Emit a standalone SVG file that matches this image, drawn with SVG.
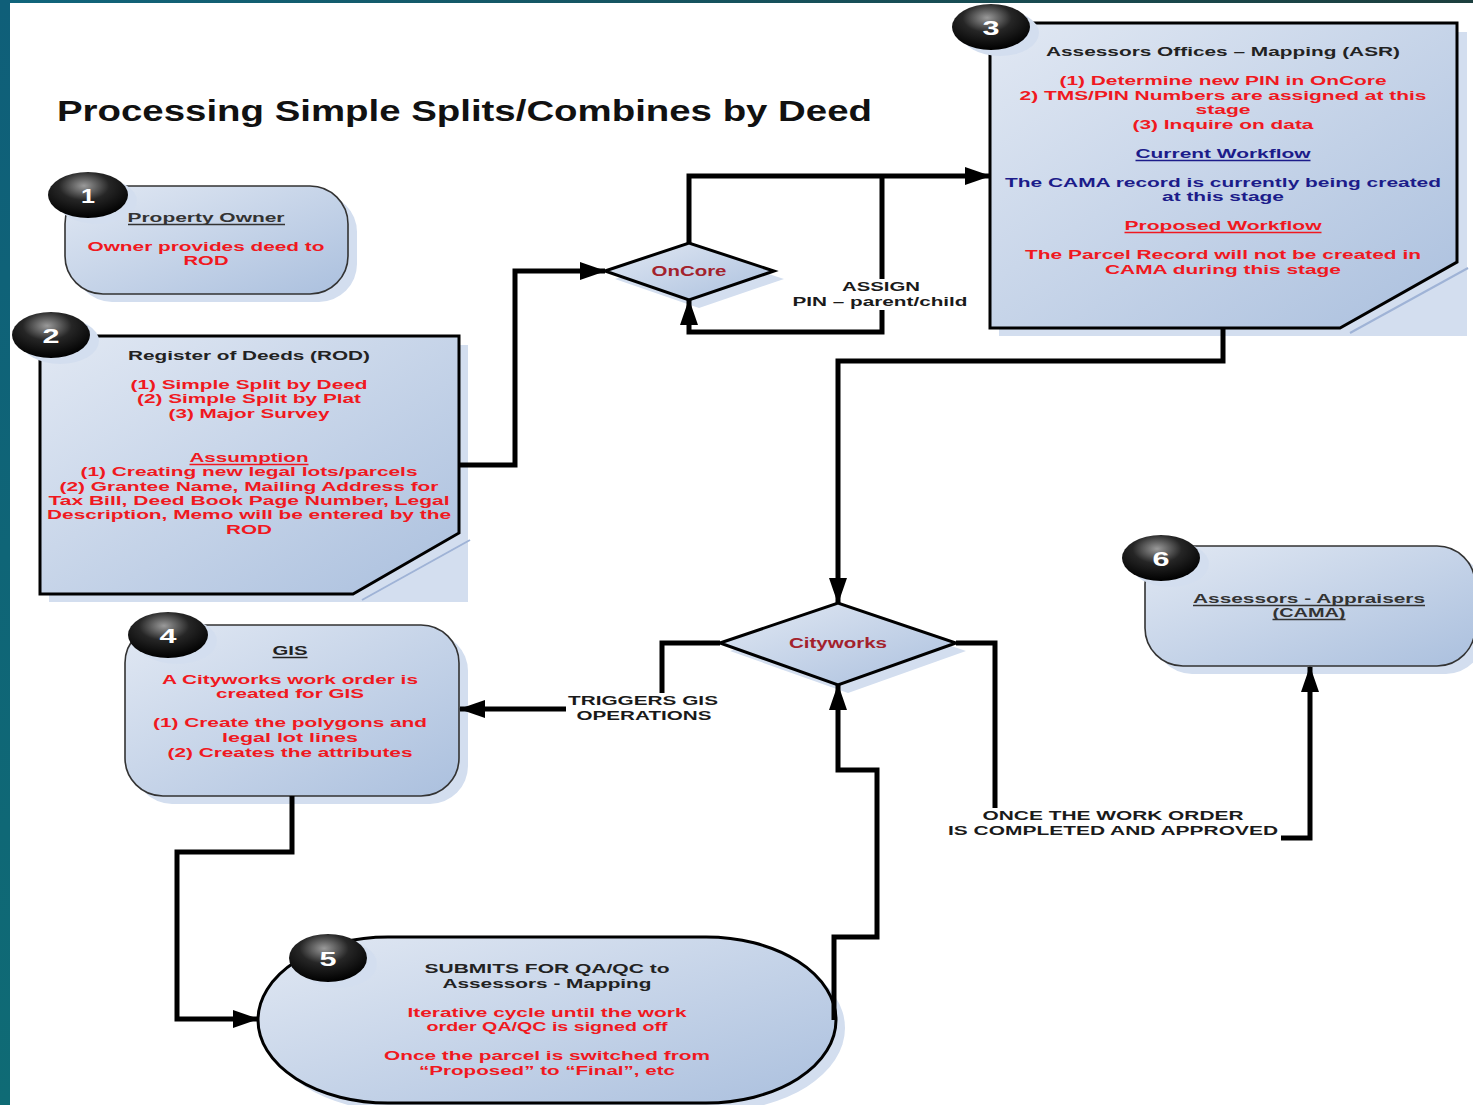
<svg xmlns="http://www.w3.org/2000/svg" width="1473" height="1105" viewBox="0 0 1473 1105">
<defs>
<linearGradient id="fill" x1="0" y1="0" x2="1" y2="1">
<stop offset="0" stop-color="#e1e8f3"/>
<stop offset="1" stop-color="#abc0de"/>
</linearGradient>
<radialGradient id="badge" cx="0.45" cy="0.3" r="0.7">
<stop offset="0" stop-color="#9a9a9a"/>
<stop offset="0.45" stop-color="#262626"/>
<stop offset="1" stop-color="#000"/>
</radialGradient>
<linearGradient id="topbar" x1="0" y1="0" x2="1" y2="0">
<stop offset="0" stop-color="#10657c"/>
<stop offset="1" stop-color="#1c3f3e"/>
</linearGradient>
<linearGradient id="leftbar" x1="0" y1="0" x2="0" y2="1">
<stop offset="0" stop-color="#0f5f79"/>
<stop offset="1" stop-color="#0f6b75"/>
</linearGradient>
<marker id="arr" markerUnits="userSpaceOnUse" markerWidth="26" markerHeight="18" refX="25" refY="9" orient="auto">
<path d="M0,0 L26,9 L0,18 z" fill="#000"/>
</marker>
<style>
text{font-family:"Liberation Sans",Arial,sans-serif;font-weight:bold;text-anchor:middle;}
.t{font-size:13.5px;}
.dk{fill:#222;}
.rd{fill:#f01820;}
.bl{fill:#1c1c8a;}
.dm{fill:#a3222c;font-size:14px;}
.lb{font-size:13px;fill:#1a1a1a;}
.num{font-size:21px;fill:#fff;}
.ttl{font-size:29px;fill:#111;text-anchor:start;}
.shadow{fill:#d3deef;}
.nb{fill:url(#fill);stroke:#000;stroke-width:3;}
.nr{fill:url(#fill);stroke:#333;stroke-width:1.6;}
.con{fill:none;stroke:#000;stroke-width:5;stroke-linejoin:miter;}
.ul{stroke-width:1.4;}
</style>
</defs>
<rect x="0" y="0" width="1473" height="1105" fill="#fff"/>
<rect x="0" y="0" width="1473" height="3" fill="url(#topbar)"/>
<rect x="0" y="0" width="10" height="1105" fill="url(#leftbar)"/>

<text class="ttl" x="57" y="121" textLength="815" lengthAdjust="spacingAndGlyphs">Processing Simple Splits/Combines by Deed</text>

<!-- Node 1 -->
<g id="node1">
<rect class="shadow" x="74" y="194" width="283" height="108" rx="38"/>
<rect class="nr" x="65" y="186" width="283" height="108" rx="38"/>
<ellipse class="shadow" cx="97" cy="201" rx="40" ry="23"/>
<ellipse cx="88" cy="195" rx="40" ry="23" fill="url(#badge)"/>
<text class="num" x="88" y="203" textLength="14" lengthAdjust="spacingAndGlyphs">1</text>
<text class="t" x="206" y="222" textLength="157" lengthAdjust="spacingAndGlyphs" fill="#333">Property Owner</text>
<line class="ul" x1="128" y1="224.5" x2="285" y2="224.5" stroke="#333"/>
<text class="t rd" x="206" y="251" textLength="237" lengthAdjust="spacingAndGlyphs">Owner provides deed to</text>
<text class="t rd" x="206" y="265" textLength="45" lengthAdjust="spacingAndGlyphs">ROD</text>
</g>

<!-- Node 2 -->
<g id="node2">
<polygon class="shadow" points="49,345 468,345 468,602 49,602"/>
<polygon class="nb" points="40,336 459,336 459,533 353,594 40,594"/>
<line x1="362" y1="600" x2="470" y2="540" stroke="#9fb3d6" stroke-width="2"/>
<ellipse class="shadow" cx="60" cy="341" rx="39" ry="23"/>
<ellipse cx="51" cy="335" rx="39" ry="23" fill="url(#badge)"/>
<text class="num" x="51" y="343" textLength="17" lengthAdjust="spacingAndGlyphs">2</text>
<text class="t dk" x="249" y="360" textLength="242" lengthAdjust="spacingAndGlyphs">Register of Deeds (ROD)</text>
<text class="t rd" x="249" y="389" textLength="237" lengthAdjust="spacingAndGlyphs">(1) Simple Split by Deed</text>
<text class="t rd" x="249" y="403" textLength="224" lengthAdjust="spacingAndGlyphs">(2) Simple Split by Plat</text>
<text class="t rd" x="249" y="418" textLength="161" lengthAdjust="spacingAndGlyphs">(3) Major Survey</text>
<text class="t rd" x="249" y="462" textLength="119" lengthAdjust="spacingAndGlyphs">Assumption</text>
<line class="ul" x1="189.5" y1="464.5" x2="308.5" y2="464.5" stroke="#f01820"/>
<text class="t rd" x="249" y="476" textLength="337" lengthAdjust="spacingAndGlyphs">(1) Creating new legal lots/parcels</text>
<text class="t rd" x="249" y="491" textLength="379" lengthAdjust="spacingAndGlyphs">(2) Grantee Name, Mailing Address for</text>
<text class="t rd" x="249" y="505" textLength="401" lengthAdjust="spacingAndGlyphs">Tax Bill, Deed Book Page Number, Legal</text>
<text class="t rd" x="249" y="519" textLength="404" lengthAdjust="spacingAndGlyphs">Description, Memo will be entered by the</text>
<text class="t rd" x="249" y="534" textLength="46" lengthAdjust="spacingAndGlyphs">ROD</text>
</g>

<!-- Node 3 -->
<g id="node3">
<polygon class="shadow" points="999,32 1467,32 1467,336 999,336"/>
<polygon class="nb" points="990,23 1457,23 1457,262 1340,328 990,328"/>
<line x1="1350" y1="333" x2="1468" y2="268" stroke="#9fb3d6" stroke-width="2"/>
<ellipse class="shadow" cx="1000" cy="33" rx="39" ry="23"/>
<ellipse cx="991" cy="27" rx="39" ry="23" fill="url(#badge)"/>
<text class="num" x="991" y="35" textLength="17" lengthAdjust="spacingAndGlyphs">3</text>
<text class="t dk" x="1223" y="56" textLength="354" lengthAdjust="spacingAndGlyphs">Assessors Offices – Mapping (ASR)</text>
<text class="t rd" x="1223" y="85" textLength="327" lengthAdjust="spacingAndGlyphs">(1) Determine new PIN in OnCore</text>
<text class="t rd" x="1223" y="100" textLength="407" lengthAdjust="spacingAndGlyphs">2) TMS/PIN Numbers are assigned at this</text>
<text class="t rd" x="1223" y="114" textLength="55" lengthAdjust="spacingAndGlyphs">stage</text>
<text class="t rd" x="1223" y="129" textLength="181" lengthAdjust="spacingAndGlyphs">(3) Inquire on data</text>
<text class="t bl" x="1223" y="158" textLength="175" lengthAdjust="spacingAndGlyphs">Current Workflow</text>
<line class="ul" x1="1135.5" y1="160.5" x2="1310.5" y2="160.5" stroke="#1c1c8a"/>
<text class="t bl" x="1223" y="187" textLength="436" lengthAdjust="spacingAndGlyphs">The CAMA record is currently being created</text>
<text class="t bl" x="1223" y="201" textLength="122" lengthAdjust="spacingAndGlyphs">at this stage</text>
<text class="t rd" x="1223" y="230" textLength="197" lengthAdjust="spacingAndGlyphs">Proposed Workflow</text>
<line class="ul" x1="1124.5" y1="232.5" x2="1321.5" y2="232.5" stroke="#f01820"/>
<text class="t rd" x="1223" y="259" textLength="396" lengthAdjust="spacingAndGlyphs">The Parcel Record will not be created in</text>
<text class="t rd" x="1223" y="274" textLength="236" lengthAdjust="spacingAndGlyphs">CAMA during this stage</text>
</g>

<!-- OnCore -->
<g id="oncore">
<polygon class="shadow" points="615,279 699,251 784,279 699,308"/>
<polygon class="nb" points="605,271 689,243 774,271 689,300"/>
<text class="dm" x="689" y="276" textLength="75" lengthAdjust="spacingAndGlyphs">OnCore</text>
</g>

<!-- Cityworks -->
<g id="cityworks">
<polygon class="shadow" points="730,651 848,611 966,651 848,693"/>
<polygon class="nb" points="720,643 838,603 956,643 838,685"/>
<text class="dm" x="838" y="648" textLength="98" lengthAdjust="spacingAndGlyphs">Cityworks</text>
</g>

<!-- Node 4 -->
<g id="node4">
<rect class="shadow" x="134" y="633" width="334" height="171" rx="38"/>
<rect class="nr" x="125" y="625" width="334" height="171" rx="38"/>
<ellipse class="shadow" cx="177" cy="641" rx="40" ry="23"/>
<ellipse cx="168" cy="635" rx="40" ry="23" fill="url(#badge)"/>
<text class="num" x="168" y="643" textLength="17" lengthAdjust="spacingAndGlyphs">4</text>
<text class="t dk" x="290" y="655" textLength="35" lengthAdjust="spacingAndGlyphs">GIS</text>
<line class="ul" x1="272.5" y1="657.5" x2="307.5" y2="657.5" stroke="#222"/>
<text class="t rd" x="290" y="684" textLength="256" lengthAdjust="spacingAndGlyphs">A Cityworks work order is</text>
<text class="t rd" x="290" y="698" textLength="148" lengthAdjust="spacingAndGlyphs">created for GIS</text>
<text class="t rd" x="290" y="727" textLength="274" lengthAdjust="spacingAndGlyphs">(1) Create the polygons and</text>
<text class="t rd" x="290" y="742" textLength="136" lengthAdjust="spacingAndGlyphs">legal lot lines</text>
<text class="t rd" x="290" y="757" textLength="245" lengthAdjust="spacingAndGlyphs">(2) Creates the attributes</text>
</g>

<!-- Node 5 -->
<g id="node5">
<rect class="shadow" x="267" y="945" width="578" height="166" rx="130" ry="83"/>
<rect class="nb" x="258" y="937" width="578" height="166" rx="130" ry="83"/>
<ellipse class="shadow" cx="338" cy="964" rx="39" ry="24"/>
<ellipse cx="328" cy="958" rx="39" ry="24" fill="url(#badge)"/>
<text class="num" x="328" y="966" textLength="17" lengthAdjust="spacingAndGlyphs">5</text>
<text class="t dk" x="547" y="973" textLength="245" lengthAdjust="spacingAndGlyphs">SUBMITS FOR QA/QC to</text>
<text class="t dk" x="547" y="988" textLength="209" lengthAdjust="spacingAndGlyphs">Assessors - Mapping</text>
<text class="t rd" x="547" y="1017" textLength="279" lengthAdjust="spacingAndGlyphs">Iterative cycle until the work</text>
<text class="t rd" x="547" y="1031" textLength="241" lengthAdjust="spacingAndGlyphs">order QA/QC is signed off</text>
<text class="t rd" x="547" y="1060" textLength="326" lengthAdjust="spacingAndGlyphs">Once the parcel is switched from</text>
<text class="t rd" x="547" y="1075" textLength="256" lengthAdjust="spacingAndGlyphs">“Proposed” to “Final”, etc</text>
</g>

<!-- Node 6 -->
<g id="node6">
<rect class="shadow" x="1154" y="554" width="330" height="120" rx="38"/>
<rect class="nr" x="1145" y="546" width="330" height="120" rx="38"/>
<ellipse class="shadow" cx="1170" cy="564" rx="39" ry="23"/>
<ellipse cx="1161" cy="558" rx="39" ry="23" fill="url(#badge)"/>
<text class="num" x="1161" y="566" textLength="17" lengthAdjust="spacingAndGlyphs">6</text>
<text class="t" x="1309" y="603" textLength="232" lengthAdjust="spacingAndGlyphs" fill="#333">Assessors - Appraisers</text>
<line class="ul" x1="1193" y1="605.5" x2="1425" y2="605.5" stroke="#333"/>
<text class="t" x="1309" y="617" textLength="73" lengthAdjust="spacingAndGlyphs" fill="#333">(CAMA)</text>
<line class="ul" x1="1272.5" y1="619.5" x2="1345.5" y2="619.5" stroke="#333"/>
</g>

<!-- Connectors -->
<g id="connectors">
<path class="con" d="M459,465 H515 V271 H605" marker-end="url(#arr)"/>
<path class="con" d="M689,243 V176 H990" marker-end="url(#arr)"/>
<path class="con" d="M882,176 V332 H689 V300" marker-end="url(#arr)"/>
<path class="con" d="M1223,328 V361 H838 V603" marker-end="url(#arr)"/>
<path class="con" d="M720,643 H662 V709 H460" marker-end="url(#arr)"/>
<path class="con" d="M956,643 H995 V838 H1310 V667" marker-end="url(#arr)"/>
<path class="con" d="M292,796 V852 H177 V1019 H258" marker-end="url(#arr)"/>
<path class="con" d="M834,1020 V937 H877 V770 H838 V685" marker-end="url(#arr)"/>
<g id="label-assign">
<rect x="838" y="279" width="86" height="31" fill="#fff"/>
<text class="lb" x="881" y="291" textLength="78" lengthAdjust="spacingAndGlyphs">ASSIGN</text>
<text class="lb" x="880" y="306" textLength="175" lengthAdjust="spacingAndGlyphs">PIN – parent/child</text>
</g>
<g id="label-triggers">
<rect x="566" y="693" width="154" height="31" fill="#fff"/>
<text class="lb" x="643" y="705" textLength="150" lengthAdjust="spacingAndGlyphs">TRIGGERS GIS</text>
<text class="lb" x="644" y="720" textLength="135" lengthAdjust="spacingAndGlyphs">OPERATIONS</text>
</g>
<g id="label-once">
<rect x="946" y="808" width="335" height="34" fill="#fff"/>
<text class="lb" x="1113" y="820" textLength="261" lengthAdjust="spacingAndGlyphs">ONCE THE WORK ORDER</text>
<text class="lb" x="1113" y="835" textLength="330" lengthAdjust="spacingAndGlyphs">IS COMPLETED AND APPROVED</text>
</g>
</g>
</svg>
